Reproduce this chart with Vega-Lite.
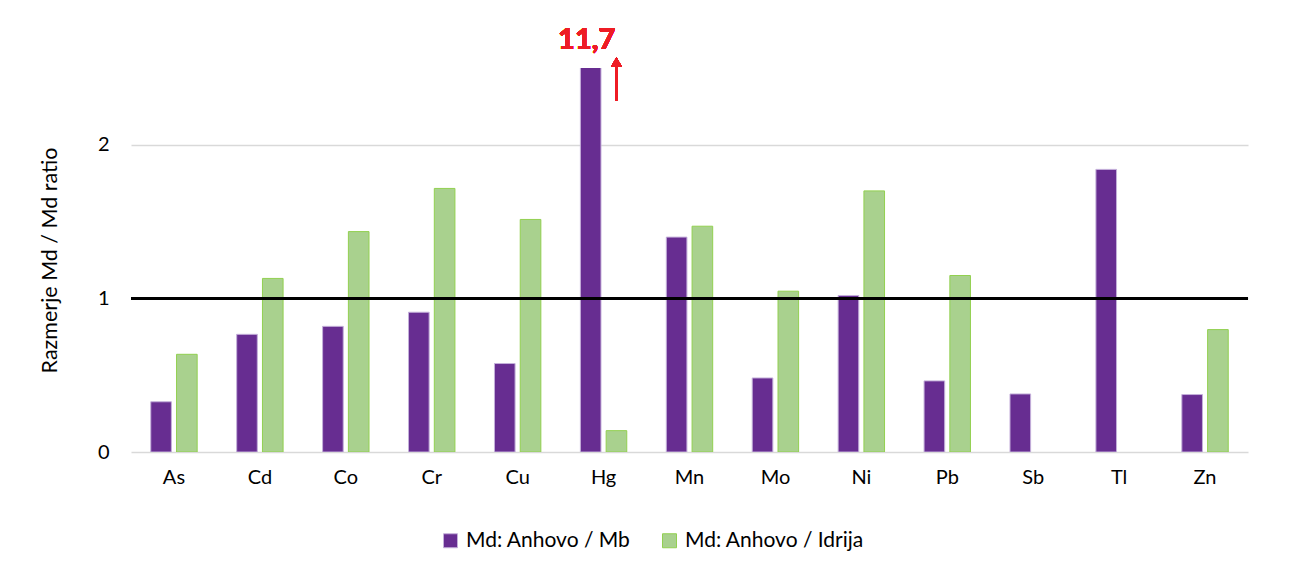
{
  "$schema": "https://vega.github.io/schema/vega-lite/v6.json",
  "autosize": {"type": "none"},
  "padding": {"left": 131, "top": 68, "right": 51, "bottom": 118},
  "width": 1117,
  "height": 384,
  "background": "white",
  "config": {
    "font": "Lato",
    "view": {"stroke": null},
    "axis": {"labelFont": "Lato", "titleFont": "Lato", "labelColor": "#000000", "titleColor": "#000000"}
  },
  "data": {
    "values": [
      {"element": "As", "series": "Md: Anhovo / Mb", "value": 0.327},
      {"element": "As", "series": "Md: Anhovo / Idrija", "value": 0.636},
      {"element": "Cd", "series": "Md: Anhovo / Mb", "value": 0.766},
      {"element": "Cd", "series": "Md: Anhovo / Idrija", "value": 1.13},
      {"element": "Co", "series": "Md: Anhovo / Mb", "value": 0.818},
      {"element": "Co", "series": "Md: Anhovo / Idrija", "value": 1.435},
      {"element": "Cr", "series": "Md: Anhovo / Mb", "value": 0.91},
      {"element": "Cr", "series": "Md: Anhovo / Idrija", "value": 1.716},
      {"element": "Cu", "series": "Md: Anhovo / Mb", "value": 0.576},
      {"element": "Cu", "series": "Md: Anhovo / Idrija", "value": 1.514},
      {"element": "Hg", "series": "Md: Anhovo / Mb", "value": 11.7},
      {"element": "Hg", "series": "Md: Anhovo / Idrija", "value": 0.139},
      {"element": "Mn", "series": "Md: Anhovo / Mb", "value": 1.399},
      {"element": "Mn", "series": "Md: Anhovo / Idrija", "value": 1.47},
      {"element": "Mo", "series": "Md: Anhovo / Mb", "value": 0.482},
      {"element": "Mo", "series": "Md: Anhovo / Idrija", "value": 1.047},
      {"element": "Ni", "series": "Md: Anhovo / Mb", "value": 1.019},
      {"element": "Ni", "series": "Md: Anhovo / Idrija", "value": 1.7},
      {"element": "Pb", "series": "Md: Anhovo / Mb", "value": 0.463},
      {"element": "Pb", "series": "Md: Anhovo / Idrija", "value": 1.149},
      {"element": "Sb", "series": "Md: Anhovo / Mb", "value": 0.378},
      {"element": "Tl", "series": "Md: Anhovo / Mb", "value": 1.84},
      {"element": "Zn", "series": "Md: Anhovo / Mb", "value": 0.374},
      {"element": "Zn", "series": "Md: Anhovo / Idrija", "value": 0.797}
    ]
  },
  "encoding": {
    "x": {
      "field": "element",
      "type": "nominal",
      "sort": ["As", "Cd", "Co", "Cr", "Cu", "Hg", "Mn", "Mo", "Ni", "Pb", "Sb", "Tl", "Zn"],
      "scale": {"paddingInner": 0.46, "paddingOuter": 0.23},
      "axis": {"title": null, "labelAngle": 0, "labelFontSize": 20, "labelPadding": 15, "ticks": false, "domain": false}
    },
    "xOffset": {
      "field": "series",
      "type": "nominal",
      "sort": ["Md: Anhovo / Mb", "Md: Anhovo / Idrija"],
      "scale": {"domain": ["Md: Anhovo / Mb", "Md: Anhovo / Idrija"], "paddingInner": 0.2, "paddingOuter": 0}
    }
  },
  "layer": [
    {
      "mark": {"type": "bar", "clip": true, "strokeWidth": 1},
      "encoding": {
        "y": {
          "field": "value",
          "type": "quantitative",
          "scale": {"domain": [0, 2.5], "nice": false},
          "axis": {
            "title": "Razmerje Md / Md ratio",
            "titleFontSize": 21.5,
            "titleFontWeight": "normal",
            "titlePadding": 36,
            "labelFontSize": 20,
            "labelPadding": 22,
            "values": [0, 1, 2],
            "format": "d",
            "ticks": false,
            "domain": false,
            "grid": true,
            "gridColor": "#d9d9d9",
            "gridWidth": 1.5
          }
        },
        "color": {
          "field": "series",
          "type": "nominal",
          "scale": {"domain": ["Md: Anhovo / Mb", "Md: Anhovo / Idrija"], "range": ["#672d91", "#a9d18e"]},
          "legend": {
            "title": null,
            "orient": "none",
            "direction": "horizontal",
            "legendX": 309,
            "legendY": 462,
            "padding": 0,
            "symbolType": "square",
            "symbolSize": 196,
            "symbolStrokeWidth": 1,
            "labelFontSize": 21,
            "labelFont": "Lato",
            "labelColor": "#000000",
            "labelOffset": 5,
            "labelLimit": 400,
            "columnPadding": 28
          }
        },
        "stroke": {
          "field": "series",
          "type": "nominal",
          "scale": {"domain": ["Md: Anhovo / Mb", "Md: Anhovo / Idrija"], "range": ["#c4b0da", "#92d050"]},
          "legend": null
        }
      }
    },
    {
      "mark": {"type": "rule", "color": "#000000", "strokeWidth": 2.5},
      "encoding": {"y": {"datum": 1}, "x": null, "xOffset": null}
    },
    {
      "mark": {"type": "text", "color": "#ee1c25", "fontSize": 29, "fontWeight": "bold", "font": "Lato", "baseline": "middle", "align": "center", "dx": -4},
      "encoding": {
        "x": {"datum": "Hg"},
        "xOffset": {"datum": "Md: Anhovo / Mb"},
        "y": {"datum": 2.68},
        "text": {"value": "11,7"}
      }
    },
    {
      "mark": {"type": "rule", "color": "#ee1c25", "strokeWidth": 2},
      "encoding": {
        "x": {"datum": "Hg"},
        "xOffset": {"datum": "Md: Anhovo / Idrija"},
        "y": {"datum": 2.29},
        "y2": {"datum": 2.52}
      }
    },
    {
      "mark": {"type": "point", "shape": "triangle-up", "filled": true, "color": "#ee1c25", "size": 110, "opacity": 1},
      "encoding": {
        "x": {"datum": "Hg"},
        "xOffset": {"datum": "Md: Anhovo / Idrija"},
        "y": {"datum": 2.54}
      }
    }
  ]
}
